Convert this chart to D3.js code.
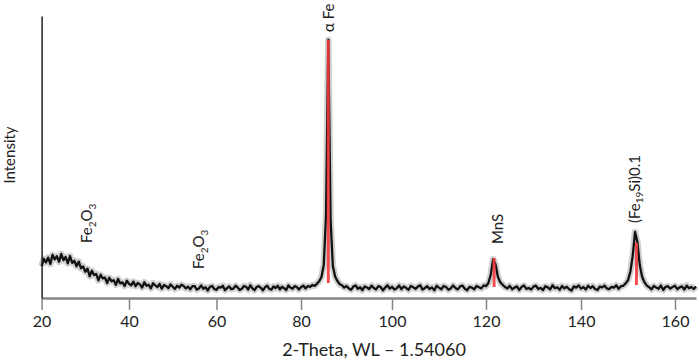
<!DOCTYPE html>
<html>
<head>
<meta charset="utf-8">
<script src="https://cdn.jsdelivr.net/npm/d3@7"></script>
<style>
  body { margin: 0; background: #fff; }
  svg { display: block; font-family: Lato, "Open Sans", sans-serif; }
</style>
</head>
<body>
<svg id="chart" width="699" height="362"></svg>
<script>
// scan: 2-theta from 20 in 0.5 deg steps
var scanStart = 20, scanStep = 0.5;
var counts = [
  318, 392, 356, 404, 340, 432, 386, 418, 362, 440,
  378, 410, 346, 420, 352, 372, 318, 364, 298, 316,
  262, 294, 218, 272, 230, 240, 176, 232, 196, 204,
  150, 202, 168, 178, 132, 190, 146, 156, 120, 172,
  142, 126, 164, 118, 150, 136, 104, 158, 122, 132,
  96, 148, 126, 110, 140, 92, 130, 118, 98, 136,
  112, 90, 124, 104, 132, 120, 96, 114, 86, 118,
  118, 84, 96, 126, 92, 108, 74, 112, 120, 90,
  82, 110, 104, 122, 78, 98, 116, 88, 94, 124,
  106, 80, 92, 120, 112, 84, 128, 96, 78, 110,
  118, 102, 76, 108, 124, 90, 84, 116, 100, 122,
  86, 112, 98, 80, 126, 104, 92, 118, 110, 84,
  108, 124, 96, 118, 112, 130, 122, 142, 168, 210,
  330, 820, 2580, 780, 320, 215, 170, 138, 128, 104,
  120, 96, 82, 114, 126, 92, 108, 78, 116, 104,
  90, 124, 100, 86, 118, 110, 76, 104, 128, 94,
  112, 84, 98, 126, 88, 116, 102, 80, 120, 108,
  92, 114, 128, 84, 100, 118, 90, 106, 76, 122,
  104, 88, 120, 110, 82, 96, 126, 100, 86, 116,
  124, 92, 78, 112, 104, 88, 120, 108, 96, 126,
  118, 150, 232, 388, 338, 212, 158, 132, 110, 96,
  122, 88, 104, 116, 80, 110, 126, 92, 100, 84,
  114, 124, 90, 102, 78, 118, 106, 86, 128, 98,
  108, 82, 120, 96, 112, 88, 74, 116, 104, 126,
  94, 110, 84, 122, 100, 118, 90, 80, 114, 106,
  124, 96, 88, 112, 104, 128, 92, 118, 122, 146,
  178, 262, 420, 660, 560, 332, 212, 158, 124, 108,
  86, 120, 104, 92, 126, 80, 112, 118, 94, 110,
  122, 88, 106, 116, 84, 124, 98, 110, 90, 114
];

// reference pattern sticks (red)
var refAngles = [86.0, 121.7, 151.8];
var refTop = [2580, 400, 550];
var refBottom = [150, 110, 130];

// phase labels, split into normal / subscript pieces
var phaseParts = [
  ["Fe", "2", "O", "3"],
  ["Fe", "2", "O", "3"],
  ["α Fe"],
  ["MnS"],
  ["(Fe", "19", "Si)0.1"]
];
var phaseAngles = [30.4, 56.0, 86.0, 122.5, 151.4];
var phaseLevels = [550, 290, 2660, 540, 750];

var tickValues = [20, 40, 60, 80, 100, 120, 140, 160];

var svg = d3.select("#chart");

// the printed axis is not quite even, so the scale follows the tick marks
var x = d3.scaleLinear()
    .domain([20, 40, 60, 80, 100, 120, 140, 160, 164.5])
    .range([41.6, 129, 216.5, 301, 392, 486, 581, 675, 696]);
var y = d3.scaleLinear().domain([0, 2820]).range([298, 16]);

var points = counts.map(function(c, i) { return [scanStart + i * scanStep, c]; });

var line = d3.line()
    .x(function(d) { return x(d[0]); })
    .y(function(d) { return y(d[1]); });

// grey halo then black trace
svg.append("path").datum(points)
    .attr("d", line)
    .attr("fill", "none")
    .attr("stroke", "#8a8a8a")
    .attr("stroke-width", 6.5)
    .attr("stroke-opacity", 0.4)
    .attr("stroke-linejoin", "round");
svg.append("path").datum(points)
    .attr("d", line)
    .attr("fill", "none")
    .attr("stroke", "#111")
    .attr("stroke-width", 2.3)
    .attr("stroke-linejoin", "round");

// red sticks
svg.selectAll(".ref").data(refAngles).enter().append("line")
    .attr("class", "ref")
    .attr("x1", function(d) { return x(d); })
    .attr("x2", function(d) { return x(d); })
    .attr("y1", function(d, i) { return y(refTop[i]); })
    .attr("y2", function(d, i) { return y(refBottom[i]); })
    .attr("stroke", "#f23a3f")
    .attr("stroke-opacity", 0.9)
    .attr("stroke-width", 3);

// axes
var xAxis = svg.append("g")
    .attr("transform", "translate(0,298)")
    .call(d3.axisBottom(x).tickValues(tickValues).tickSize(12).tickSizeOuter(0).tickPadding(6));
xAxis.select(".domain").attr("stroke", "#858585").attr("stroke-width", 2.5);
xAxis.selectAll(".tick line").attr("stroke", "#858585").attr("stroke-width", 1.5);
xAxis.selectAll(".tick text")
    .attr("fill", "#222")
    .style("font-size", "16px")
    .style("font-family", "Lato, sans-serif");

var yAxis = svg.append("g")
    .attr("transform", "translate(41.6,0)")
    .call(d3.axisLeft(y).tickValues([]).tickSizeOuter(0));
yAxis.select(".domain").attr("stroke", "#222").attr("stroke-width", 1.5);

svg.append("text")
    .attr("x", 374).attr("y", 356)
    .attr("text-anchor", "middle")
    .attr("fill", "#222")
    .style("font-size", "18px")
    .text("2-Theta, WL \u2013 1.54060");

svg.append("text")
    .attr("transform", "translate(10,155) rotate(-90)")
    .attr("text-anchor", "middle")
    .attr("dy", "0.35em")
    .attr("fill", "#222")
    .style("font-size", "15px")
    .text("Intensity");

// rotated phase labels; odd pieces are subscripts
var labels = svg.selectAll(".phase").data(phaseParts).enter().append("text")
    .attr("class", "phase")
    .attr("transform", function(d, i) {
        return "translate(" + x(phaseAngles[i]) + "," + y(phaseLevels[i]) + ") rotate(-90)";
    })
    .attr("dy", "0.35em")
    .attr("fill", "#222")
    .style("font-size", "15px");

labels.each(function(parts) {
    var t = d3.select(this);
    parts.forEach(function(p, k) {
        var span = t.append("tspan").text(p);
        if (k % 2 == 1) span.style("font-size", "10px").attr("dy", "3.5px");
        else if (k > 0) span.attr("dy", "-3.5px");
    });
});
</script>
</body>
</html>
